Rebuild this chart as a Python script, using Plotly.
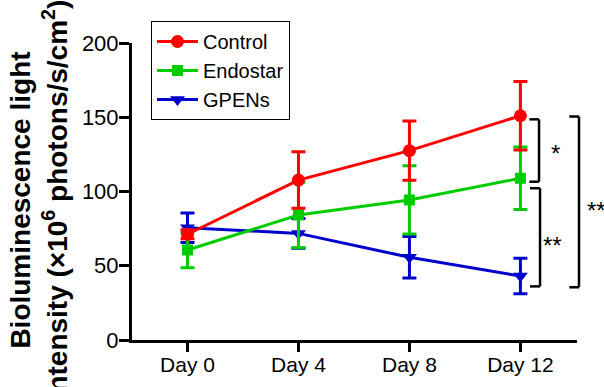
import plotly.graph_objects as go

days = ["Day 0", "Day 4", "Day 8", "Day 12"]
control = [71.2, 107.7, 127.5, 151.0]
control_err = [3, 19, 20, 23]
endostar = [60.6, 84.2, 94.3, 108.9]
endostar_err = [12, 22, 23, 21]
gpens = [75.6, 71.8, 55.7, 43.1]
gpens_err = [10, 10, 14, 12]

FONT = "Arial, Liberation Sans, sans-serif"
RED = "#FF0000"
GREEN = "#00CC00"
BLUE = "#0000CC"

fig = go.Figure()

def add(name, y, err, color, symbol, size, rank):
    fig.add_trace(go.Scatter(
        x=days, y=y, name=name, mode="lines+markers",
        line=dict(color=color, width=3),
        marker=dict(color=color, symbol=symbol, size=size),
        error_y=dict(type="data", array=err, visible=True, color=color,
                     thickness=3, width=7),
        legendrank=rank,
    ))

add("GPENs", gpens, gpens_err, BLUE, "triangle-down", 13, 3)
add("Endostar", endostar, endostar_err, GREEN, "square", 11, 2)
add("Control", control, control_err, RED, "circle", 13, 1)

L, R = 131.7, 577.0
def px(p):
    return (p - L) / (R - L)

brackets = [  # (x arm, x vertical, y top, y bottom)
    (529.3, 539.0, 148.6, 106.6),
    (530.0, 540.0, 102.2, 36.1),
    (569.3, 579.0, 150.5, 35.5),
]
shapes = []
for xa, xv, yt, yb in brackets:
    for (x0, y0, x1, y1) in [(px(xa), yt, px(xv), yt), (px(xv), yt, px(xv), yb), (px(xv), yb, px(xa), yb)]:
        shapes.append(dict(type="line", xref="paper", yref="y", x0=x0, y0=y0, x1=x1, y1=y1,
                           line=dict(color="black", width=2.5)))

annotations = [
    dict(text="*", xref="paper", yref="y", x=px(549), y=128, xanchor="left", showarrow=False,
         font=dict(family=FONT, size=24, color="black"), yshift=-4),
    dict(text="**", xref="paper", yref="y", x=px(540.5), y=66.2, xanchor="left", showarrow=False,
         font=dict(family=FONT, size=24, color="black"), yshift=-4),
    dict(text="**", xref="paper", yref="y", x=px(585), y=89.8, xanchor="left", showarrow=False,
         font=dict(family=FONT, size=24, color="black"), yshift=-4),
    dict(text="<b>Bioluminescence light<br>intensity (×10<sup>6</sup> photons/s/cm<sup>2</sup>)</b>",
         xref="paper", yref="paper", x=px(39), y=(340 - 200) / 297, textangle=-90,
         showarrow=False, xanchor="center", yanchor="middle",
         font=dict(family=FONT, size=28, color="black")),
]

fig.update_layout(
    width=604, height=387,
    margin=dict(l=L, r=604 - R, t=43, b=47, autoexpand=False),
    plot_bgcolor="white", paper_bgcolor="white",
    font=dict(family=FONT, size=20, color="black"),
    showlegend=True,
    legend=dict(x=px(150.7), y=(340 - 21) / 297, xanchor="left", yanchor="top",
                bordercolor="black", borderwidth=1, bgcolor="white",
                font=dict(family=FONT, size=20, color="black"),
                tracegroupgap=0, itemwidth=41),
    xaxis=dict(type="category", range=[-0.5, 3.51], showline=True, linecolor="black",
               linewidth=3, ticks="outside", ticklen=9, tickwidth=3, tickcolor="black",
               showgrid=False, zeroline=False, tickfont=dict(family=FONT, size=21),
               ticklabelstandoff=-5),
    yaxis=dict(range=[0, 200], tickvals=[0, 50, 100, 150, 200], showline=True,
               linecolor="black", linewidth=3, ticks="outside", ticklen=10, tickwidth=3,
               tickcolor="black", showgrid=False, zeroline=False,
               tickfont=dict(family=FONT, size=22), ticklabelstandoff=-4),
    shapes=shapes,
    annotations=annotations,
)

fig.write_html("out.html", config={"displayModeBar": False},
               post_script="document.body.style.margin='0';document.body.style.overflow='hidden';")
